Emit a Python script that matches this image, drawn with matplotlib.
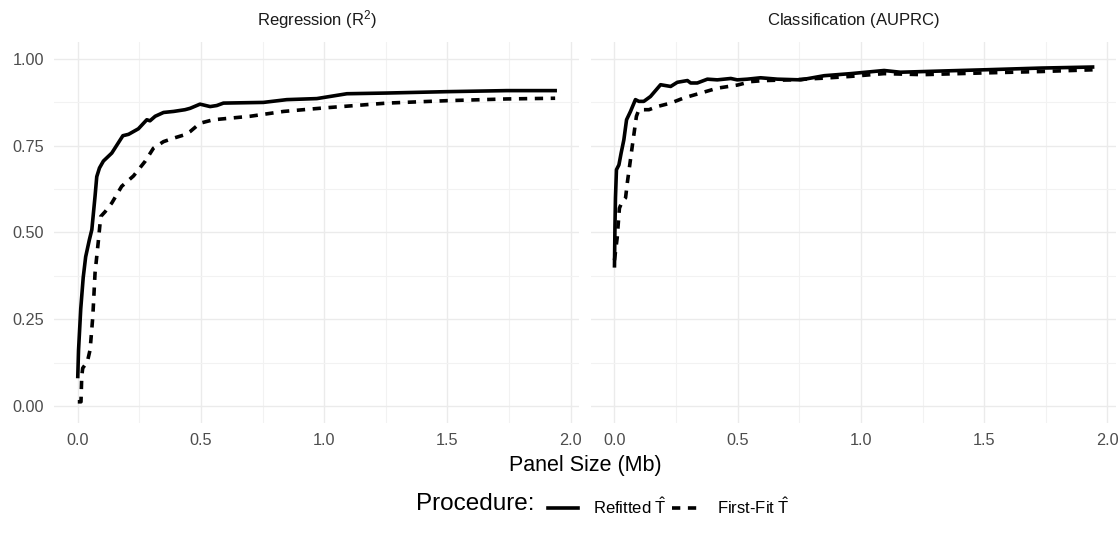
import matplotlib
matplotlib.use("Agg")
import matplotlib.pyplot as plt
from matplotlib.ticker import MultipleLocator, FormatStrFormatter
from matplotlib.lines import Line2D

plt.rcParams['font.family'] = ['Liberation Sans', 'DejaVu Sans']
plt.rcParams['mathtext.fontset'] = 'custom'
plt.rcParams['mathtext.rm'] = 'Liberation Sans'
plt.rcParams['mathtext.it'] = 'Liberation Sans:italic'

# ---- data ----
reg_refit_x = [0.0, 0.003, 0.012, 0.022, 0.032, 0.047, 0.057, 0.070, 0.077, 0.088, 0.104,
               0.138, 0.183, 0.206, 0.246, 0.280, 0.293, 0.314, 0.348, 0.389, 0.435,
               0.456, 0.496, 0.537, 0.564, 0.591, 0.753, 0.848, 0.970, 1.092, 1.254,
               1.498, 1.741, 1.937]
reg_refit_y = [0.085, 0.16, 0.28, 0.37, 0.43, 0.479, 0.508, 0.604, 0.661, 0.686, 0.706,
               0.729, 0.779, 0.783, 0.799, 0.825, 0.822, 0.835, 0.846, 0.849, 0.854,
               0.858, 0.870, 0.863, 0.866, 0.873, 0.875, 0.883, 0.886, 0.900, 0.902,
               0.906, 0.909, 0.909]

reg_first_x = [0.0, 0.013, 0.016, 0.020, 0.039, 0.050, 0.061, 0.070, 0.084, 0.093, 0.111,
               0.138, 0.178, 0.226, 0.273, 0.307, 0.348, 0.389, 0.435, 0.456, 0.496,
               0.550, 0.699, 0.835, 0.997, 1.254, 1.498, 1.741, 1.937]
reg_first_y = [0.012, 0.012, 0.085, 0.109, 0.128, 0.162, 0.258, 0.383, 0.479, 0.546, 0.560,
               0.585, 0.633, 0.663, 0.705, 0.743, 0.762, 0.772, 0.782, 0.791, 0.815,
               0.825, 0.835, 0.849, 0.859, 0.873, 0.880, 0.885, 0.887]

cls_refit_x = [0.0, 0.002, 0.004, 0.008, 0.018, 0.027, 0.038, 0.049, 0.065, 0.085, 0.099,
               0.119, 0.146, 0.187, 0.228, 0.255, 0.296, 0.309, 0.336, 0.377, 0.417,
               0.472, 0.498, 0.539, 0.593, 0.661, 0.756, 0.851, 0.959, 1.094, 1.160,
               1.351, 1.500, 1.730, 1.940]
cls_refit_y = [0.404, 0.52, 0.60, 0.681, 0.695, 0.729, 0.767, 0.825, 0.849, 0.883, 0.878,
               0.878, 0.892, 0.926, 0.921, 0.933, 0.938, 0.931, 0.931, 0.942, 0.940,
               0.944, 0.940, 0.942, 0.946, 0.942, 0.940, 0.952, 0.958, 0.967, 0.962,
               0.966, 0.969, 0.974, 0.977]

cls_first_x = [0.0, 0.005, 0.011, 0.020, 0.031, 0.045, 0.052, 0.062, 0.072, 0.089, 0.099,
               0.140, 0.173, 0.228, 0.282, 0.350, 0.417, 0.499, 0.553, 0.607, 0.715,
               0.851, 0.959, 1.094, 1.250, 1.500, 1.730, 1.940]
cls_first_y = [0.42, 0.45, 0.485, 0.57, 0.589, 0.600, 0.643, 0.695, 0.748, 0.835, 0.854,
               0.854, 0.863, 0.873, 0.888, 0.902, 0.916, 0.925, 0.935, 0.938, 0.940,
               0.945, 0.950, 0.958, 0.955, 0.960, 0.964, 0.969]

panel_titles = [r'Regression $(\mathrm{R}^2)$', r'Classification $(\mathrm{AUPRC})$']
legend_labels = [r'Refitted $\hat{\mathrm{T}}$', r'First-Fit $\hat{\mathrm{T}}$']

W, H = 1120, 538
fig = plt.figure(figsize=(W / 100, H / 100), dpi=100)
ax1 = fig.add_axes([54 / W, 1 - 423.3 / H, 525.3 / W, 381.6 / H])
ax2 = fig.add_axes([590.7 / W, 1 - 423.3 / H, 525.3 / W, 381.6 / H])

dash = (0, (2.3, 2.1))
lw = 2.6
ax1.plot(reg_first_x, reg_first_y, color='black', lw=lw, linestyle=dash)
ax1.plot(reg_refit_x, reg_refit_y, color='black', lw=lw, solid_joinstyle='round')
ax2.plot(cls_first_x, cls_first_y, color='black', lw=lw, linestyle=dash)
ax2.plot(cls_refit_x, cls_refit_y, color='black', lw=lw, solid_joinstyle='round')

for ax, title in zip([ax1, ax2], panel_titles):
    ax.set_xlim(-0.0965, 2.035)
    ax.set_ylim(-0.05, 1.05)
    ax.xaxis.set_major_locator(MultipleLocator(0.5))
    ax.xaxis.set_minor_locator(MultipleLocator(0.25))
    ax.yaxis.set_major_locator(MultipleLocator(0.25))
    ax.yaxis.set_minor_locator(MultipleLocator(0.125))
    ax.grid(which='major', color='#EBEBEB', lw=1.0)
    ax.grid(which='minor', color='#F2F2F2', lw=0.8)
    ax.set_axisbelow(True)
    for s in ax.spines.values():
        s.set_visible(False)
    ax.tick_params(which='both', length=0, labelsize=11.7, labelcolor='#4D4D4D', pad=7)
    ax.xaxis.set_major_formatter(FormatStrFormatter('%.1f'))
    ax.yaxis.set_major_formatter(FormatStrFormatter('%.2f'))
    pos = ax.get_position()
    fig.text(pos.x0 + pos.width / 2, 1 - 20 / H, title, ha='center', va='center',
             fontsize=12, color='#1A1A1A')

ax2.tick_params(axis='y', labelleft=False)

fig.text(585 / W, 1 - 465 / H, 'Panel Size (Mb)', ha='center', va='center', fontsize=15.5)

fig.text(535 / W, 1 - 504 / H, 'Procedure:', ha='right', va='center', fontsize=17.5)
handles = [Line2D([], [], color='black', lw=lw),
           Line2D([], [], color='black', lw=lw, linestyle=dash)]
fig.legend(handles, legend_labels, loc='center left', bbox_to_anchor=(533 / W, 1 - 507 / H),
           ncol=2, frameon=False, fontsize=12, handlelength=1.8, handletextpad=0.9,
           columnspacing=0.3)

fig.savefig('out.png', dpi=100)
